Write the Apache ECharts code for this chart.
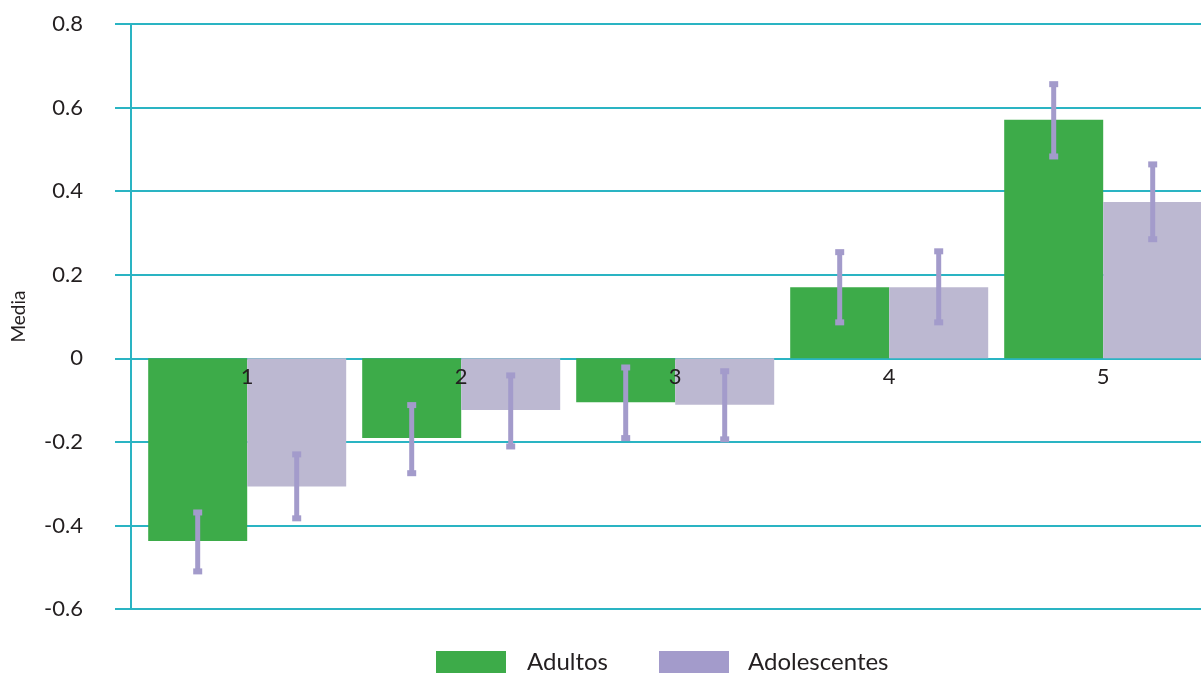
<!DOCTYPE html>
<html>
<head>
<meta charset="utf-8">
<script src="https://cdn.jsdelivr.net/npm/echarts@6/dist/echarts.min.js"></script>
<style>
  html, body { margin: 0; padding: 0; background: #ffffff; }
  #chart { width: 1201px; height: 675px; }
</style>
</head>
<body>
<div id="chart"></div>
<script>
// Group means per item, with the ends of each error bar
const categories = [1, 2, 3, 4, 5];
const adultos = [-0.437, -0.191, -0.105, 0.170, 0.571];
const adolescentes = [-0.307, -0.124, -0.111, 0.170, 0.374];
const adultosLow = [-0.510, -0.275, -0.191, 0.086, 0.483];
const adultosHigh = [-0.369, -0.112, -0.022, 0.254, 0.656];
const adolescentesLow = [-0.383, -0.211, -0.194, 0.086, 0.285];
const adolescentesHigh = [-0.230, -0.041, -0.031, 0.256, 0.464];
const yTicks = { min: -0.6, max: 0.8, step: 0.2 };

const GREEN = '#3dab49';
const LAVENDER = '#bcb8d1';
const ERR = '#a39bcb';
const TEAL = '#2ab4c3';
const FONT = 'Lato';
const BAR_W = 99;

const GRID = { left: 131, right: 0, top: 24, bottom: 66 };
const GRID_H = 675 - GRID.top - GRID.bottom;
// lift the category labels from the bottom edge up to the zero line
const ZERO_LIFT = GRID_H * (0 - yTicks.min) / (yTicks.max - yTicks.min);

function errorSeries(name, low, high, shift) {
  return {
    type: 'custom',
    name: name,
    z: 5,
    silent: true,
    data: categories.map((c, i) => [c, low[i], high[i]]),
    encode: { x: 0, y: [1, 2] },
    renderItem: function (params, api) {
      const x = api.value(0);
      const pLow = api.coord([x, api.value(1)]);
      const pHigh = api.coord([x, api.value(2)]);
      const cx = pLow[0] + shift;
      return {
        type: 'group',
        children: [
          { type: 'line', shape: { x1: cx, y1: pLow[1], x2: cx, y2: pHigh[1] },
            style: { stroke: ERR, lineWidth: 5 } },
          { type: 'rect', shape: { x: cx - 4.5, y: pHigh[1] - 3, width: 9, height: 6 },
            style: { fill: ERR } },
          { type: 'rect', shape: { x: cx - 4.5, y: pLow[1] - 3, width: 9, height: 6 },
            style: { fill: ERR } }
        ]
      };
    }
  };
}

const legendText = { fontFamily: FONT, fontSize: 24, color: '#231f20' };

const chart = echarts.init(document.getElementById('chart'));
chart.setOption({
  animation: false,
  backgroundColor: '#ffffff',
  textStyle: { fontFamily: FONT },
  legend: [
    {
      left: 436, top: 650, padding: 0,
      itemWidth: 70, itemHeight: 22,
      icon: 'rect',
      data: [{ name: 'Adultos', itemStyle: { color: GREEN } }],
      textStyle: Object.assign({ padding: [0, 0, 0, 16] }, legendText)
    },
    {
      left: 659, top: 650, padding: 0,
      itemWidth: 70, itemHeight: 22,
      icon: 'rect',
      data: [{ name: 'Adolescentes', itemStyle: { color: ERR } }],
      textStyle: Object.assign({ padding: [0, 0, 0, 14] }, legendText)
    }
  ],
  grid: Object.assign({ containLabel: false }, GRID),
  xAxis: {
    type: 'value',
    z: 10,
    min: 0.457,
    max: 5.457,
    offset: -ZERO_LIFT,
    axisLine: { show: false, onZero: false },
    axisTick: { show: false },
    splitLine: { show: false },
    axisLabel: {
      customValues: categories,
      formatter: v => String(v),
      fontFamily: FONT,
      fontSize: 22,
      color: '#231f20',
      margin: 8
    }
  },
  yAxis: {
    type: 'value',
    min: yTicks.min,
    max: yTicks.max,
    interval: yTicks.step,
    name: 'Media',
    nameLocation: 'middle',
    nameGap: 103,
    nameTextStyle: { fontFamily: FONT, fontSize: 19, color: '#231f20' },
    axisLine: { show: true, lineStyle: { color: TEAL, width: 2 } },
    axisTick: { show: true, length: 16, lineStyle: { color: TEAL, width: 2 } },
    splitLine: { show: true, lineStyle: { color: TEAL, width: 2 } },
    axisLabel: {
      fontFamily: FONT,
      fontSize: 22,
      color: '#231f20',
      margin: 48,
      formatter: v => String(Math.round(v * 10) / 10)
    }
  },
  series: [
    {
      type: 'bar',
      name: 'Adultos',
      barWidth: BAR_W,
      barGap: '0%',
      itemStyle: { color: GREEN },
      data: categories.map((c, i) => [c, adultos[i]])
    },
    {
      type: 'bar',
      name: 'Adolescentes',
      barWidth: BAR_W,
      barGap: '0%',
      itemStyle: { color: LAVENDER },
      data: categories.map((c, i) => [c, adolescentes[i]])
    },
    errorSeries('Error adultos', adultosLow, adultosHigh, -BAR_W / 2),
    errorSeries('Error adolescentes', adolescentesLow, adolescentesHigh, BAR_W / 2)
  ]
});
</script>
</body>
</html>
